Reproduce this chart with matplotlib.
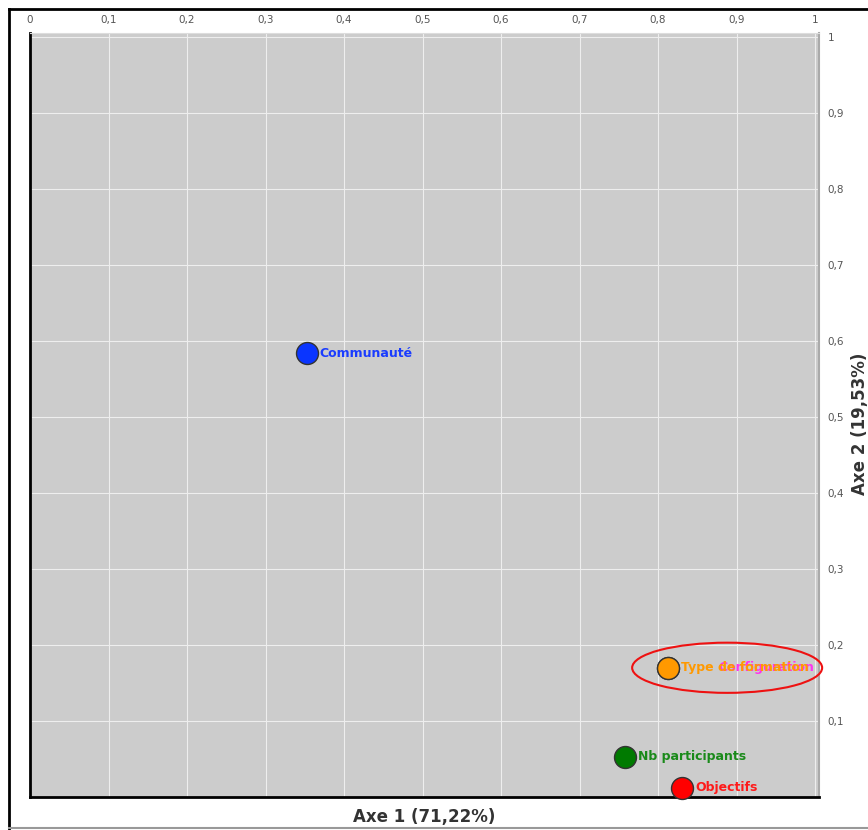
import matplotlib.pyplot as plt
from matplotlib.patches import Ellipse
from matplotlib.lines import Line2D
from matplotlib.ticker import FuncFormatter

# Coordonnées des variables (Axe 1, Axe 2)
noms = ["Communauté", "Configuration", "Type de formation", "Nb participants", "Objectifs"]
axe1 = [0.353, 0.813, 0.813, 0.758, 0.831]
axe2 = [0.584, 0.170, 0.170, 0.053, 0.012]
couleurs = ["#0a35ff", "#ff22ee", "#ff9900", "#007a00", "#ff0000"]
couleurs_texte = ["#1a3cff", "#ff33ee", "#ff9900", "#1a8a1a", "#ff1a1a"]
# décalage horizontal des étiquettes (points)
decalage = [9, 36, 9, 9, 9]

ticks = [0.1 * i for i in range(11)]

def virgule(v, pos):
    if abs(v) < 1e-9:
        return "0"
    if abs(v - 1) < 1e-9:
        return "1"
    return ("%.1f" % v).replace(".", ",")

fig = plt.figure(figsize=(8.68, 8.3), dpi=100)
W, H = 868, 830
ax = fig.add_axes([30 / W, 1 - 797 / H, 789 / W, 764 / H])
ax.set_facecolor("#cccccc")
ax.set_xlim(0, 1.005)
ax.set_ylim(0, 1.005)

ax.set_xticks(ticks)
ax.set_yticks(ticks[1:])
ax.xaxis.set_major_formatter(FuncFormatter(virgule))
ax.yaxis.set_major_formatter(FuncFormatter(virgule))
ax.xaxis.tick_top()
ax.yaxis.tick_right()
ax.tick_params(axis="both", length=0, labelsize=7.5, labelcolor="#555555", pad=6)
ax.grid(True, color="#eeeeee", linewidth=0.8)
ax.set_axisbelow(True)

ax.spines["left"].set_color("black")
ax.spines["left"].set_linewidth(2)
ax.spines["bottom"].set_color("black")
ax.spines["bottom"].set_linewidth(2)
ax.spines["top"].set_color("#dddddd")
ax.spines["right"].set_color("#aaaaaa")
ax.spines["right"].set_linewidth(1.5)

for i, (x, y, n, c, ct, d) in enumerate(zip(axe1, axe2, noms, couleurs, couleurs_texte, decalage)):
    ax.scatter(x, y, s=250, color=c, edgecolor="#333333", linewidth=1, zorder=3 + i * 0.01, clip_on=False)
    ax.annotate(n, (x, y), xytext=(d, 0), textcoords="offset points",
                ha="left", va="center", fontsize=9, fontweight="bold", color=ct,
                zorder=4 + i * 0.01, annotation_clip=False)

ax.add_patch(Ellipse((0.888, 0.170), 0.242, 0.066, fill=False, edgecolor="#ee1111",
                     linewidth=1.5, clip_on=False, zorder=5))

fig.text(424 / W, 1 - 817 / H, "Axe 1 (71,22%)", ha="center", va="center",
         fontsize=12, fontweight="bold", color="#333333")
fig.text(860 / W, 1 - 424 / H, "Axe 2 (19,53%)", ha="center", va="center",
         fontsize=12, fontweight="bold", color="#333333", rotation=90)

# cadre extérieur
fig.add_artist(Line2D([9 / W, 9 / W], [1 - 9 / H, 1 - 829 / H], color="black", linewidth=2, transform=fig.transFigure))
fig.add_artist(Line2D([9 / W, 1], [1 - 9 / H, 1 - 9 / H], color="black", linewidth=2, transform=fig.transFigure))
fig.add_artist(Line2D([9 / W, 1], [1 - 828 / H, 1 - 828 / H], color="#999999", linewidth=1.5, transform=fig.transFigure))

fig.savefig("out.png", dpi=100)
